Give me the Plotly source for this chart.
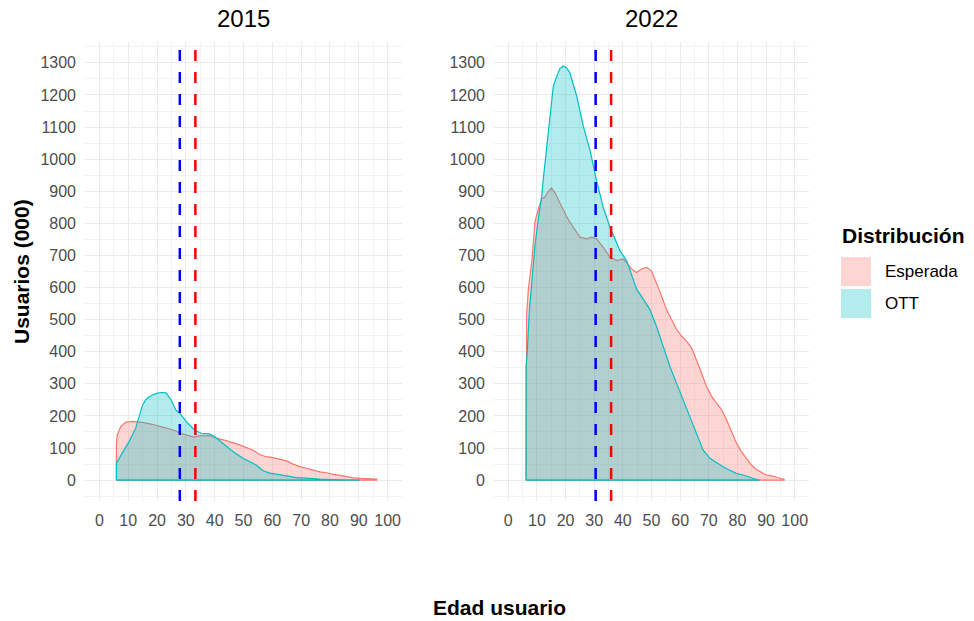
import plotly.graph_objects as go

# ---------------- data ----------------
years = ["2015", "2022"]

# 2015 - Esperada
age_esp_2015 = [5.9, 6.2, 7.4, 9.1, 11.4, 14.9, 18.4, 21.9, 25.4, 28.8, 31.8, 32.9,
                34.7, 38.2, 40.5, 44.0, 48.6, 53.2, 55.6, 57.9, 60.2, 62.5,
                64.9, 67.2, 69.5, 71.8, 74.2, 76.5, 78.8, 81.1, 84.6, 88.1, 91.6, 95.2, 96.2]
val_esp_2015 = [115, 141, 167, 180, 183, 180, 174, 165, 157, 144, 138, 134,
                138, 139, 131, 123, 110, 94, 80, 73, 70, 65,
                60, 50, 42, 37, 31, 26, 23, 18, 13, 7, 5, 4, 3]

# 2015 - OTT
age_ott_2015 = [5.9, 7.9, 10.3, 12.6, 13.8, 14.9, 16.0, 17.2, 18.6, 20.1, 21.6, 23.1, 24.8, 26.5,
                28.3, 30.6, 32.9, 35.3, 38.2, 39.9, 42.8, 46.3, 49.8, 54.4, 56.7, 59.1, 61.4,
                64.9, 68.4, 71.8, 76.5, 83.5, 90.4]
val_ott_2015 = [52, 84, 120, 162, 198, 232, 250, 259, 266, 271, 273, 272, 251, 219,
                204, 178, 157, 146, 144, 136, 115, 89, 68, 47, 30, 22, 19,
                14, 8, 6, 3, 1, 0]

# 2022 - Esperada
age_esp_2022 = [6.2, 6.4, 7.0, 8.2, 9.3, 10.5, 11.7, 12.8, 14.0, 15.1, 16.3, 18.0, 20.4, 22.7, 25.0,
                27.4, 29.1, 30.8, 33.1, 35.5, 37.8, 40.1, 41.3, 43.0, 44.8, 46.5, 48.3,
                50.0, 51.7, 53.5, 55.2, 57.0, 58.7, 60.5, 62.2, 64.0, 65.7, 67.5, 69.2, 71.0,
                72.7, 74.5, 76.2, 78.0, 79.7, 81.4, 83.2, 84.9, 86.6, 88.4, 90.1, 91.8, 93.6,
                95.3, 96.3]
val_esp_2022 = [480, 517, 595, 679, 804, 846, 877, 882, 900, 910, 895, 862, 820, 788, 757,
                752, 757, 752, 726, 695, 684, 689, 678, 658, 647, 658, 663,
                652, 616, 574, 532, 501, 470, 449, 433, 412, 376, 334, 292, 261,
                240, 219, 188, 151, 115, 89, 68, 47, 33, 23, 16, 13, 10,
                5, 3]

# 2022 - OTT
age_ott_2022 = [6.2, 6.6, 7.3, 8.2, 9.3, 10.5, 11.7, 12.2, 13.4, 14.5, 15.7, 16.9, 18.0, 19.2,
                20.4, 21.5, 23.9, 26.2, 28.5, 30.8, 33.1, 35.5, 39.0, 41.3, 44.8, 47.1, 49.4,
                51.7, 54.1, 56.4, 58.7, 61.0, 63.4, 65.7, 68.0, 70.4, 72.7, 75.0, 77.3,
                79.6, 82.0, 84.3, 86.6, 87.8]
val_ott_2022 = [355, 397, 522, 616, 731, 815, 888, 937, 1039, 1143, 1227, 1258, 1282, 1290,
                1284, 1269, 1196, 1102, 1029, 934, 851, 788, 715, 684, 595, 564, 532,
                480, 418, 355, 303, 250, 198, 146, 94, 68, 54, 42, 31,
                21, 16, 8, 2, 0]

# mean ages (dashed lines)
mean_ott = [27.9, 30.5]
mean_esp = [33.3, 35.9]

series_names = ["Esperada", "OTT"]
x_ticks = [0, 10, 20, 30, 40, 50, 60, 70, 80, 90, 100]
y_ticks = [0, 100, 200, 300, 400, 500, 600, 700, 800, 900, 1000, 1100, 1200, 1300]

# ---------------- styling ----------------
W, H = 974, 621
COL = {"Esperada": "#F8766D", "OTT": "#00BFC4"}
FILL = {"Esperada": "rgba(248,118,109,0.3)", "OTT": "rgba(0,191,196,0.3)"}
FONT = "Liberation Sans, Arial, sans-serif"

def px_x(p):
    return p / W

def px_y(p):
    return (H - p) / H

dom_left = [px_x(85), px_x(402)]
dom_right = [px_x(494), px_x(809)]
dom_y = [px_y(501), px_y(42)]

fig = go.Figure()

panels = [
    (age_esp_2015, val_esp_2015, age_ott_2015, val_ott_2015, "x", "y"),
    (age_esp_2022, val_esp_2022, age_ott_2022, val_ott_2022, "x2", "y2"),
]

for (ae, ve, ao, vo, xa, ya) in panels:
    for name, ag, vl in [("Esperada", ae, ve), ("OTT", ao, vo)]:
        xs = [ag[0]] + list(ag) + [ag[-1], ag[0]]
        ys = [0] + list(vl) + [0, 0]
        fig.add_trace(go.Scatter(
            x=xs, y=ys, mode="lines", fill="toself", fillcolor=FILL[name],
            line=dict(color=COL[name], width=1.2), name=name,
            showlegend=False, hoverinfo="skip", xaxis=xa, yaxis=ya))

# dashed mean lines
for i, (xa, ya) in enumerate([("x", "y"), ("x2", "y2")]):
    for val, col in [(mean_ott[i], "#0000FF"), (mean_esp[i], "#FF0000")]:
        fig.add_shape(type="line", xref=xa, yref=f"{ya} domain", x0=val, x1=val, y0=0, y1=1,
                      line=dict(color=col, width=2.5, dash="11px,11px"), layer="above")

axis_common = dict(
    showline=False, zeroline=False, showgrid=True, gridcolor="#EBEBEB", gridwidth=1,
    ticks="", tickfont=dict(family=FONT, size=16, color="#4D4D4D"),
)

xax = dict(axis_common, range=[-5, 105], tickvals=x_ticks, ticktext=[str(t) for t in x_ticks],
           minor=dict(dtick=5, tick0=5, showgrid=True, gridcolor="#F2F2F2", gridwidth=1),
           ticklabelstandoff=8)
yax = dict(axis_common, range=[-65, 1365], tickvals=y_ticks, ticktext=[str(t) for t in y_ticks],
           minor=dict(dtick=50, tick0=50, showgrid=True, gridcolor="#F2F2F2", gridwidth=1),
           ticklabelstandoff=8, domain=dom_y)

fig.update_layout(
    width=W, height=H,
    margin=dict(l=0, r=0, t=0, b=0),
    paper_bgcolor="white", plot_bgcolor="white",
    showlegend=False,
    xaxis=dict(xax, domain=dom_left, anchor="y"),
    xaxis2=dict(xax, domain=dom_right, anchor="y2"),
    yaxis=dict(yax, anchor="x"),
    yaxis2=dict(yax, anchor="x2"),
)

ann = []
# panel titles
for yr, dom in zip(years, [dom_left, dom_right]):
    ann.append(dict(text=yr, x=(dom[0] + dom[1]) / 2, y=px_y(18), xref="paper", yref="paper",
                    showarrow=False, font=dict(family=FONT, size=24, color="black"),
                    xanchor="center", yanchor="middle"))
# axis titles
ann.append(dict(text="<b>Usuarios (000)</b>", x=px_x(22), y=px_y(272), xref="paper", yref="paper",
                showarrow=False, textangle=-90, font=dict(family=FONT, size=21, color="black"),
                xanchor="center", yanchor="middle"))
ann.append(dict(text="<b>Edad usuario</b>", x=px_x(500), y=px_y(607), xref="paper", yref="paper",
                showarrow=False, font=dict(family=FONT, size=21, color="black"),
                xanchor="center", yanchor="middle"))
# legend (manual)
ann.append(dict(text="<b>Distribución</b>", x=px_x(840), y=px_y(235), xref="paper", yref="paper",
                showarrow=False, font=dict(family=FONT, size=21, color="black"),
                xanchor="left", yanchor="middle"))
for k, name in enumerate(series_names):
    top = 257 + k * 32
    fig.add_shape(type="rect", xref="paper", yref="paper",
                  x0=px_x(841), x1=px_x(871), y0=px_y(top + 29), y1=px_y(top),
                  fillcolor=FILL[name], line=dict(width=0))
    ann.append(dict(text=name, x=px_x(883), y=px_y(top + 15), xref="paper", yref="paper",
                    showarrow=False, font=dict(family=FONT, size=17, color="black"),
                    xanchor="left", yanchor="middle"))

fig.update_layout(annotations=ann)
fig.write_html("out.html", config={"displayModeBar": False},
               post_script="document.body.style.margin='0';document.body.style.overflow='hidden';")
